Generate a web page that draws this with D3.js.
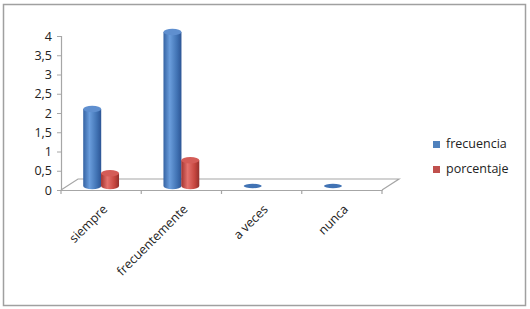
<!DOCTYPE html>
<html>
<head>
<meta charset="utf-8">
<script src="https://cdn.jsdelivr.net/npm/d3@7"></script>
<style>
  body { margin: 0; background: #fff; }
  text { font-family: "Open Sans", "Noto Sans", sans-serif; fill: #222; }
</style>
</head>
<body>
<svg id="chart" width="530" height="309"></svg>
<script>
// data
var categories = ["siempre", "frecuentemente", "a veces", "nunca"];
var seriesNames = ["frecuencia", "porcentaje"];
var frecuencia = [2, 4, 0, 0];
var porcentaje = [0.33, 0.67, 0, 0];
var yTicks = [0, 0.5, 1, 1.5, 2, 2.5, 3, 3.5, 4];

var svg = d3.select("#chart");

// outer frame
svg.append("rect")
    .attr("x", 3.5).attr("y", 4.5)
    .attr("width", 522).attr("height", 301)
    .attr("fill", "#fff")
    .attr("stroke", "#a0a0a0")
    .attr("stroke-width", 1.5);

var depthX = 17, depthY = -11;   // floor depth

var x = d3.scaleBand()
    .domain(categories)
    .range([61, 382]);

var xs = d3.scaleBand()
    .domain(seriesNames)
    .range([0, x.bandwidth()])
    .paddingInner(0)
    .paddingOuter(1.25);

var y = d3.scaleLinear()
    .domain([0, 4])
    .range([190, 36]);

// gradients
var defs = svg.append("defs");
var colors = {
    frecuencia: ["#3563a3", "#6a9ddc", "#4173b4", "#2d5595", "#5f8fcf"],
    porcentaje: ["#a3332f", "#e4726d", "#c6463f", "#93302c", "#d45c57"]
};
seriesNames.forEach(function(s) {
    var g = defs.append("linearGradient").attr("id", "g-" + s)
        .attr("x1", "0").attr("x2", "1").attr("y1", "0").attr("y2", "0");
    g.append("stop").attr("offset", "0%").attr("stop-color", colors[s][0]);
    g.append("stop").attr("offset", "35%").attr("stop-color", colors[s][1]);
    g.append("stop").attr("offset", "75%").attr("stop-color", colors[s][2]);
    g.append("stop").attr("offset", "100%").attr("stop-color", colors[s][3]);
});

// floor (3D)
var x0 = x.range()[0], x1 = x.range()[1], yb = y(0);
svg.append("path")
    .attr("d", "M" + x0 + "," + yb + "L" + (x0 + depthX) + "," + (yb + depthY) +
               "L" + (x1 + depthX) + "," + (yb + depthY) + "L" + x1 + "," + yb)
    .attr("fill", "none")
    .attr("stroke", "#a6a6a6")
    .attr("stroke-width", 1.2);

// x axis (front edge of floor)
var xAxis = svg.append("g")
    .attr("transform", "translate(0," + yb + ")")
    .call(d3.axisBottom(x).tickSize(0).tickFormat(""));
xAxis.select(".domain").attr("stroke", "#a6a6a6").attr("stroke-width", 1.2);
svg.selectAll(".xtick")
    .data(categories.concat(["end"]))
    .enter().append("line")
    .attr("x1", function(d, i) { return x0 + i * x.step(); })
    .attr("x2", function(d, i) { return x0 + i * x.step(); })
    .attr("y1", yb).attr("y2", yb + 4)
    .attr("stroke", "#a6a6a6").attr("stroke-width", 1.2);

// y axis
var yAxis = svg.append("g")
    .attr("transform", "translate(" + x0 + ",0)")
    .call(d3.axisLeft(y).tickValues(yTicks).tickSize(4).tickPadding(5)
        .tickFormat(function(d) { return String(d).replace(".", ","); }));
yAxis.select(".domain").attr("stroke", "#a6a6a6").attr("stroke-width", 1.2);
yAxis.selectAll(".tick line").attr("stroke", "#a6a6a6");
yAxis.selectAll("text")
    .style("font-family", "'Open Sans', sans-serif")
    .style("font-size", "12.5px")
    .attr("fill", "#222");

// category labels
svg.selectAll(".cat")
    .data(categories)
    .enter().append("text")
    .attr("class", "cat")
    .attr("text-anchor", "end")
    .attr("transform", function(d) {
        return "translate(" + (x(d) + x.bandwidth() / 2 + 7) + "," + (yb + 20) + ") rotate(-45)";
    })
    .style("font-size", "12.5px")
    .text(function(d) { return d; });

// cylinders
var bars = [];
categories.forEach(function(c, i) {
    bars.push({cat: c, series: "frecuencia", value: frecuencia[i]});
    bars.push({cat: c, series: "porcentaje", value: porcentaje[i]});
});

var rx = 9, ry = 3.2, shiftX = 0, shiftY = -4;
var cyl = svg.selectAll(".cyl")
    .data(bars.filter(function(d) { return d.value > 0 || d.series === "frecuencia"; }))
    .enter().append("g")
    .attr("class", "cyl");

cyl.each(function(d) {
    var g = d3.select(this);
    var cx = x(d.cat) + xs(d.series) + xs.bandwidth() / 2 + shiftX;
    var yBot = y(0) + shiftY, yTop = y(d.value) + shiftY;
    if (d.value > 0) {
        g.append("path")
            .attr("d", "M" + (cx - rx) + "," + yTop +
                       "L" + (cx - rx) + "," + yBot +
                       "A" + rx + "," + ry + " 0 0 0 " + (cx + rx) + "," + yBot +
                       "L" + (cx + rx) + "," + yTop + "Z")
            .attr("fill", "url(#g-" + d.series + ")");
    }
    g.append("ellipse")
        .attr("cx", cx).attr("cy", yTop)
        .attr("rx", rx).attr("ry", d.value > 0 ? ry : 2.2)
        .attr("fill", d.value > 0 ? colors[d.series][4] : colors[d.series][2]);
});

// legend
var legend = svg.selectAll(".legend")
    .data(seriesNames)
    .enter().append("g")
    .attr("class", "legend")
    .attr("transform", function(d, i) { return "translate(433," + (141 + i * 25) + ")"; });
legend.append("rect")
    .attr("width", 7).attr("height", 7)
    .attr("fill", function(d) { return d === "frecuencia" ? "#4f81bd" : "#c0504d"; });
legend.append("text")
    .attr("x", 13).attr("y", 7)
    .style("font-size", "12.5px")
    .text(function(d) { return d; });
</script>
</body>
</html>
